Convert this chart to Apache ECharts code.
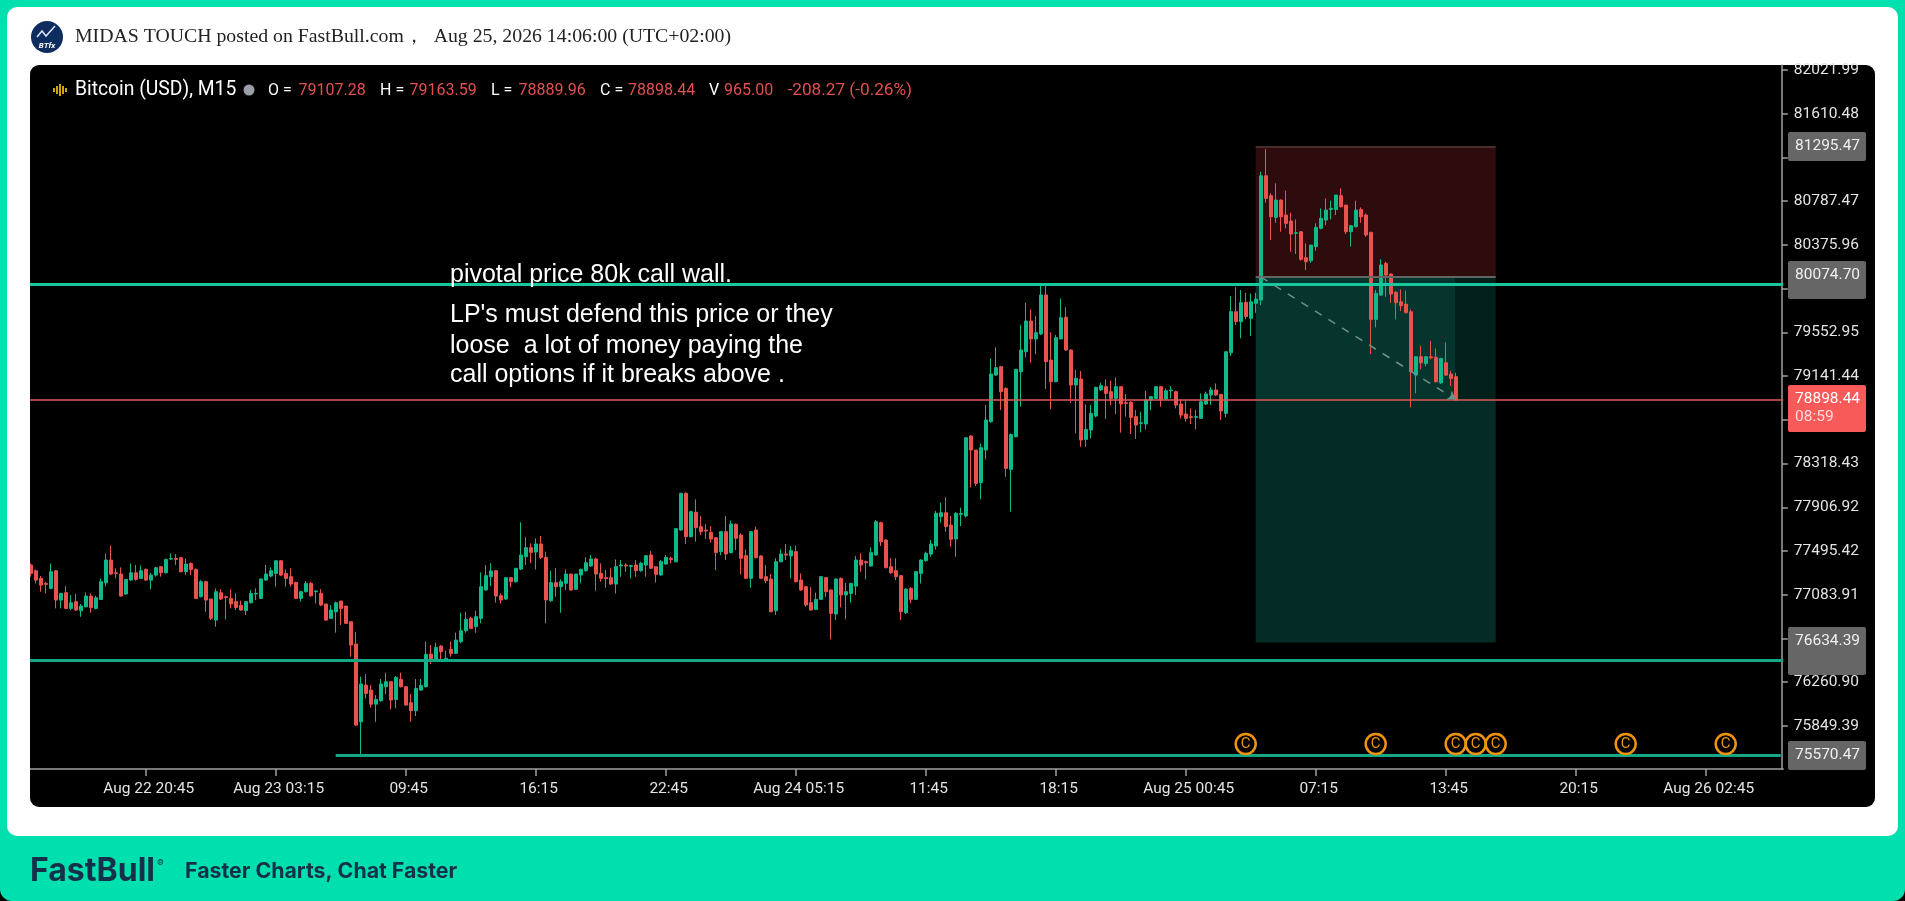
<!DOCTYPE html>
<html><head><meta charset="utf-8"><title>Bitcoin (USD), M15</title>
<style>html,body{margin:0;padding:0;background:#000}#c{width:1905px;height:901px}</style>
<script src="https://cdn.jsdelivr.net/npm/echarts@6/dist/echarts.min.js"></script></head>
<body><div id="c"></div>
<script>
// rows: [open, close, low, high]
const candlesAug22 = [
[77364,77285,77254,77379],[77310,77222,77191,77323],[77238,77175,77113,77260],[77191,77182,77097,77207],[77144,77301,77135,77379],
[77310,77034,76956,77317],[77034,77097,76956,77103],[77103,76956,76956,77166],[76956,77009,76940,77081],[77019,76940,76934,77091],
[76934,76978,76877,76997],[76971,77072,76965,77106],[77072,76965,76915,77097],[76956,77056,76946,77075],[77040,77207,77034,77238],
[77197,77411,77166,77473],[77411,77279,77269,77546],[77291,77285,77238,77332],[77279,77072,77066,77342],[77091,77229,77084,77229],
[77222,77291,77216,77379],[77291,77229,77216,77364],[77238,77310,77232,77357],[77323,77222,77216,77332],[77222,77269,77135,77291],
[77269,77338,77254,77348],[77348,77291,77254,77354],[77291,77417,77285,77423],[77420,77426,77411,77473],[77426,77417,77364,77467],
[77433,77301,77295,77436],[77301,77373,77269,77426],[77379,77323,77269,77389],[77323,77050,77044,77332],[77066,77207,77059,77222],
[77207,77034,76924,77216],[77044,76862,76846,77044],[76846,77113,76783,77144],[77103,77044,77034,77135],[77066,77059,76852,77075],
[77050,76997,76956,77135],[77019,76965,76940,77097],[76984,76940,76934,77028],[76934,77019,76893,77025],[77009,77097,77003,77128],
[77091,77097,77034,77144],[77050,77232,77044,77238],[77222,77279,77216,77364],[77260,77310,77248,77342],[77285,77404,77160,77404],
[77404,77269,77260,77411],[77285,77238,77160,77323],[77254,77185,77160,77332],[77200,77050,77044,77207],[77050,77113,77019,77122],
[77113,77191,77106,77213],[77191,77075,77066,77207],[77113,77119,77003,77128],[77097,76987,76978,77138],[76997,76846,76840,76997],
[76862,76940,76859,76987],[76924,77009,76727,77019],[77025,76956,76799,77025],[76978,76815,76808,76978],[76830,76611,76501,76830],
[76620,75858,75848,76736],[75889,76244,75585,76313],[76234,76156,76109,76338],[76187,76055,76024,76234],[76055,76099,75889,76140],
[76087,76244,76077,76291],[76219,76266,76150,76350],[76266,76093,76005,76266],[76099,76306,76015,76319],[76288,76219,76212,76350],
[76219,76046,76040,76225],[76068,75993,75889,76150],[75993,76203,75943,76291],[76187,76231,76181,76291],[76219,76523,76212,76642],
[76526,76470,76432,76611],[76476,76589,76463,76633]
];
const candlesAug23 = [
[76602,76549,76476,76611],[76470,76486,76470,76558],[76571,76533,76502,76643],[76533,76658,76527,76727],[76643,76746,76627,76915],
[76746,76853,76727,76925],[76862,76768,76759,76878],[76784,76878,76727,76934],[76862,77160,76815,77295],[77129,77264,77122,77364],
[77254,77308,77166,77380],[77311,77072,77010,77317],[77075,77035,77003,77097],[77044,77245,77035,77248],[77245,77207,77154,77248],
[77207,77333,77198,77333],[77326,77458,77317,77766],[77442,77527,77364,77624],[77527,77483,77380,77568],[77486,77562,77323,77615],
[77562,77436,77421,77637],[77436,77035,76815,77490],[77028,77198,77019,77311],[77198,77160,77066,77333],[77160,77207,76915,77229],
[77192,77279,77129,77323],[77279,77129,77122,77279],[77135,77279,77129,77279],[77270,77323,77192,77330],[77311,77386,77301,77436],
[77355,77421,77348,77458],[77421,77279,77122,77433],[77286,77239,77207,77380],[77245,77235,77151,77317],[77245,77185,77176,77333],
[77185,77348,77097,77417],[77355,77364,77254,77411],[77364,77355,77301,77380],[77351,77358,77239,77364],[77364,77311,77254,77411],
[77311,77380,77301,77395],[77364,77452,77254,77455],[77458,77333,77326,77496],[77348,77276,77198,77348],[77270,77395,77264,77411],
[77373,77436,77370,77458],[77427,77417,77380,77442],[77395,77706,77389,77706],[77693,78039,77687,78039],[78039,77631,77562,78048],
[77631,77866,77624,77875],[77860,77715,77584,77982],[77725,77678,77646,77825],[77693,77684,77609,77747],[77671,77609,77577,77731],
[77621,77480,77317,77624],[77490,77678,77458,77684],[77678,77468,77411,77825],[77480,77750,77474,77781],[77747,77615,77505,77756],
[77646,77427,77276,77662],[77452,77239,77232,77511],[77239,77678,77151,77684],[77693,77433,77427,77725],[77449,77239,77232,77458],
[77254,77217,77192,77364],[77232,76925,76919,77279],[76934,77395,76894,77427],[77395,77468,77389,77511],[77468,77458,77411,77562],
[77449,77499,77239,77543],[77490,77207,77201,77546],[77223,77129,77122,77286],[77160,76988,76972,77166],[77010,76941,76934,77154],
[76947,77041,76941,77104],[77041,77254,77035,77261],[77245,77113,77066,77248]
];
const candlesAug24 = [
[77129,76909,76664,77135],[76903,77232,76846,77238],[77238,77082,76966,77248],[77082,77113,76853,77198],[77097,77191,77010,77198],
[77166,77411,77082,77449],[77411,77364,77301,77474],[77395,77386,77229,77405],[77355,77480,77348,77530],[77458,77772,77452,77787],
[77762,77583,77543,77772],[77599,77339,77333,77606],[77348,77292,77279,77427],[77311,77254,77223,77427],[77264,76925,76846,77270],
[76915,77138,76903,77144],[77144,77041,77003,77154],[77041,77301,77035,77308],[77286,77411,77191,77417],[77405,77474,77395,77489],
[77467,77562,77442,77599],[77543,77850,77511,77872],[77819,77856,77762,77951],[77856,77725,77678,78001],[77740,77606,77536,77825],
[77609,77850,77442,77860],[77841,77850,77731,77903],[77825,78562,77812,78562],[78578,78446,78095,78587],[78446,78132,78107,78446],
[78139,78468,77982,78509],[78446,78728,78358,78870],[78713,79161,78703,79309],[79152,79221,79142,79412],[79230,78995,78822,79237],
[79026,78273,78195,79036],[78264,78593,77866,78603],[78572,79205,78565,79205],[79183,79387,78854,79622],[79371,79660,79318,79833],
[79660,79491,79268,79770],[79491,79550,79349,79707],[79538,79905,79528,79993],[79905,79277,79020,79999],[79293,79089,78829,79553],
[79089,79503,79083,79528],[79491,79691,79491,79873],[79695,79387,79381,79789],[79387,79058,78891,79393],[79058,79120,78603,79199],
[79114,78540,78477,79190],[78546,78640,78477,78876],[78634,78791,78556,78870],[78766,79036,78753,79042],[79011,79051,79004,79080],
[79042,78979,78738,79111],[78995,78932,78870,79099],[78932,79042,78785,79130],[79042,78879,78609,79048],[78891,78885,78760,78973],
[78895,78753,78597,78907],[78760,78681,78550,78822],[78697,78703,78612,78807],[78691,78917,78640,79004],[78917,78948,78822,78954],
[78932,79042,78926,79048],[79042,78923,78854,79048],[78926,79004,78917,79026],[79004,79011,78932,79048],[78995,78870,78838,79004],
[78879,78775,78744,78923],[78785,78744,78713,78917],[78760,78753,78691,78838],[78753,78760,78640,78822],[78744,78901,78738,78979],
[78879,78973,78870,78995],[78964,79011,78870,79036],[79011,78964,78954,79073],[78970,78813,78728,78973],[78791,79371,78753,79371],
[79362,79748,79331,79895],[79748,79654,79622,79977],[79654,79833,79497,79952],[79836,79701,79676,79927]
];
const candlesAug25 = [
[79685,79841,79518,79920],[79826,79866,79738,79926],[79857,81027,79810,81065],[81027,80814,80773,81278],[80839,80641,80422,80861],
[80635,80798,80585,80955],[80798,80641,80500,80804],[80657,80579,80532,80886],[80601,80478,80312,80679],[80485,80491,80290,80616],
[80500,80240,80227,80507],[80256,80218,80139,80390],[80227,80375,80208,80375],[80359,80541,80321,80579],[80532,80626,80522,80720],
[80610,80704,80563,80814],[80710,80720,80616,80792],[80710,80845,80657,80845],[80839,80735,80729,80908],[80751,80500,80478,80751],
[80500,80557,80359,80563],[80547,80704,80541,80792],[80710,80641,80585,80729],[80657,80469,80453,80673],[80494,79675,79349,80500],
[79675,79920,79600,79951],[79904,80187,79898,80240],[80202,80092,79888,80218],[80102,79914,79832,80108],[79929,79832,79675,79942],
[79841,79804,79754,79957],[79819,79738,79732,79945],[79747,79183,78847,79769],[79151,79324,78979,79330],[79324,79267,79205,79427],
[79261,79324,79236,79324],[79324,79314,79299,79474],[79318,79089,79082,79402],[79079,79308,79067,79314],[79267,79151,79145,79459],
[79161,79120,79048,79192],[79136,78916,78910,79173]
];
const xTickLabels = ['Aug 22 20:45','Aug 23 03:15','09:45','16:15','22:45','Aug 24 05:15','11:45','18:15','Aug 25 00:45','07:15','13:45','20:15','Aug 26 02:45'];
const yTickValues = [82021.99,81610.48,81198.97,80787.47,80375.96,79964.46,79552.95,79141.44,78729.93,78318.43,77906.92,77495.42,77083.91,76672.40,76260.90,75849.39];
const wallLevel = 80008, supportLevel = 76470, lowLevel = 75576, lastLevel = 78923;
const positionTop = 81295.47, positionEntry = 80074.70, positionBottom = 76634.39;
const markerIndexes = [243,269,285,289,293,319,339];
const markerLevel = 75680;
const headerLabels = ['O =','H =','L =','C =','V'];
const headerValues = ['79107.28','79163.59','78889.96','78898.44','965.00','-208.27 (-0.26%)'];
const noteLines = ['pivotal price 80k call wall.',"LP's must defend this price or they",'loose  a lot of money paying the','call options if it breaks above .'];

const candles = [...candlesAug22, ...candlesAug23, ...candlesAug24, ...candlesAug25];
const BAND_COUNT = 351, FIRST_TICK = 23, TICK_EVERY = 26;
const pad = n => String(n).padStart(2,'0');
const categories = [];
for (let i=0;i<BAND_COUNT;i++){
  const t = new Date(Date.UTC(2026,7,22,15,0)+i*900000);
  categories.push(`Aug ${t.getUTCDate()} ${pad(t.getUTCHours())}:${pad(t.getUTCMinutes())}`);
}
const labelOf = {};
xTickLabels.forEach((l,n)=>{labelOf[categories[FIRST_TICK+n*TICK_EVERY]] = l;});
const isTick = i => i>=FIRST_TICK && (i-FIRST_TICK)%TICK_EVERY===0;

const GREEN='#11b88a', RED='#e9534f', LEVEL='#18c79d', LEVEL_LOW='#12a886', AX='#a0a0a0', FONT='Roboto, sans-serif';
const LAST=candles.length-1;

const txt=(x,y,text,fill,size,extra={})=>({type:'text',x,y,z:60,silent:true,style:{text,fill,font:`${extra.weight||'normal'} ${size}px ${extra.family||FONT}`,textVerticalAlign:'middle',textAlign:extra.align||'left'}});
const box=(x,y,w,h,fill)=>({type:'rect',z:55,silent:true,shape:{x,y,width:w,height:h,r:2},style:{fill}});

const headX=[268,380,491,600,709], valX=[298.5,409.5,518.5,628,724,787.5];
const graphicEls=[
  {type:'rect',z:-30,silent:true,shape:{x:0,y:0,width:1905,height:901,r:[0,0,12,12]},style:{fill:'#00dfae'}},
  {type:'rect',z:-29,silent:true,shape:{x:7,y:7,width:1891,height:829,r:10},style:{fill:'#fff'}},
  {type:'rect',z:-28,silent:true,shape:{x:30,y:65,width:1845,height:742,r:9},style:{fill:'#000'}},
  {type:'rect',z:58,silent:true,shape:{x:27,y:80,width:3,height:695},style:{fill:'#fff'}},
  // avatar
  {type:'circle',z:20,silent:true,shape:{cx:47,cy:37,r:16},style:{fill:'#0e2c5e'}},
  {type:'polyline',z:21,silent:true,shape:{points:[[37,37],[42,31],[46,36],[55,26]]},style:{stroke:'#d8e8ff',lineWidth:1.5,fill:null}},
  txt(47,46,'BTfx','#fff',8,{align:'center',weight:'italic bold'}),
  // legend head
  ...[[54,2],[57,4],[60,6],[63,4],[66,2]].map(([x,h])=>({type:'rect',z:20,silent:true,shape:{x:x-0.9,y:90-h,width:1.8,height:h*2},style:{fill:'#e7b90d'}})),
  txt(75,90.5,'Bitcoin (USD), M15','#fff',19.3),
  {type:'circle',z:20,silent:true,shape:{cx:249,cy:90,r:5.5},style:{fill:'#9aa0a6'}},
  ...headerLabels.map((t,i)=>txt(headX[i],90.5,t,'#fff',16)),
  ...headerValues.map((t,i)=>txt(valX[i],90.5,t,'#e0514f',i===5?17.2:16)),
  // notes
  ...noteLines.map((t,i)=>txt(450,[275,315,346,375][i],t,'#fff',25,{family:'"Liberation Sans", Arial'})),
  // price tags
  box(1788,132,78,29,'#666'), txt(1795,146,'81295.47','#f0f0f0',15.5),
  box(1788,261,78,38,'#666'), txt(1795,275,'80074.70','#f0f0f0',15.5),
  box(1788,385,78,47,'#f85a5a'), txt(1795,399,'78898.44','#fff',15.5), txt(1795,417,'08:59','#fdd',15.5),
  box(1788,627,78,48,'#666'), txt(1795,641,'76634.39','#f0f0f0',15.5), {...txt(1795,660,'76404.77','#f0f0f0',15.5),scaleY:0.55,originY:660,originX:1795},
  box(1788,741,78,29,'#666'), txt(1795,755,'75570.47','#f0f0f0',15.5),
  // footer
  txt(30,871,'FastBull','#16304a',32,{weight:'bold',family:'Inter, sans-serif'}),
  txt(157,864,'®','#16304a',10,{family:'Inter, sans-serif'}),
  txt(185,872,'Faster Charts, Chat Faster','#16304a',21.3,{weight:'bold',family:'Inter, sans-serif'}),
];

const areaItem=(fromI,toI,top,bottom,color)=>[{xAxis:fromI,yAxis:top,itemStyle:{color,opacity:1}},{xAxis:toI,yAxis:bottom}];

const option={
  animation:false,
  backgroundColor:'#000',
  title:{text:'MIDAS TOUCH posted on FastBull.com，  Aug 25, 2026 14:06:00 (UTC+02:00)',left:75,top:27,textStyle:{fontFamily:'"Liberation Serif", serif',fontSize:19.8,fontWeight:'normal',color:'#222'},padding:0},
  graphic:{elements:graphicEls},
  grid:{left:28.2,top:65,width:1755,height:704,containLabel:false},
  xAxis:{type:'category',data:categories,boundaryGap:true,
    axisLine:{show:true,lineStyle:{color:AX,width:1.5}},
    axisTick:{show:true,alignWithLabel:true,interval:i=>isTick(i),length:7,lineStyle:{color:AX,width:1.5}},
    axisLabel:{interval:i=>isTick(i),formatter:v=>labelOf[v]||'',color:'#e4e4e4',fontFamily:FONT,fontSize:15.5,margin:12,hideOverlap:false,padding:[0,0,0,6]},
    splitLine:{show:false}},
  yAxis:{type:'value',position:'right',min:75444.6,max:82069,offset:-1.4,
    axisLine:{show:true,lineStyle:{color:AX,width:1.5}},
    axisTick:{show:true,customValues:yTickValues,length:6,lineStyle:{color:AX,width:1.5}},
    axisLabel:{customValues:yTickValues,formatter:v=>v.toFixed(2),color:'#e4e4e4',fontFamily:FONT,fontSize:15.5,margin:12,showMinLabel:true,showMaxLabel:true},
    splitLine:{show:false}},
  series:[
    {name:'Position zones',type:'line',z:1,data:[],silent:true,showSymbol:false,
      markArea:{silent:true,data:[
        areaItem(245,293,positionTop,positionEntry,'#2e0c0d'),
        areaItem(245,293,lastLevel,positionBottom,'#042b25'),
        areaItem(245,285,positionEntry,lastLevel,'#06352e'),
        areaItem(285,293,positionEntry,lastLevel,'#03201b')
      ]},
      markLine:{silent:true,symbol:'none',label:{show:false},animation:false,data:[
        {yAxis:wallLevel,lineStyle:{color:LEVEL,width:3,type:'solid'}},
        {yAxis:supportLevel,lineStyle:{color:LEVEL_LOW,width:3,type:'solid'}},
        [{coord:[61,lowLevel],lineStyle:{color:LEVEL_LOW,width:3,type:'solid'}},{coord:[350,lowLevel]}],
        [{coord:[245,positionTop],lineStyle:{color:'#4a2c2c',width:2,type:'solid'}},{coord:[293,positionTop]}],
        [{coord:[245,positionEntry],lineStyle:{color:'#5f6664',width:2,type:'solid'}},{coord:[293,positionEntry]}]
      ]}},
    {name:'Bitcoin (USD), M15',type:'candlestick',z:3,barWidth:3.6,data:candles,clip:true,
      itemStyle:{color:GREEN,color0:RED,borderColor:GREEN,borderColor0:RED,borderWidth:1}},
    {name:'Overlay lines',type:'line',z:4,data:[],silent:true,showSymbol:false,
      markLine:{silent:true,label:{show:false},animation:false,symbol:'none',data:[
        {yAxis:lastLevel,lineStyle:{color:'#e05a58',width:1.5,type:'solid'}},
        [{coord:[246,positionEntry],symbol:'none',lineStyle:{color:'#6f8f88',width:1.5,type:[8,8]}},{coord:[LAST-0.5,lastLevel],symbol:'arrow',symbolSize:8}]
      ]}},
    {name:'Calendar',type:'scatter',z:5,symbol:'circle',symbolSize:20,silent:true,
      data:markerIndexes.map(i=>[i,markerLevel]),
      itemStyle:{color:'rgba(0,0,0,0)',borderColor:'#f0930f',borderWidth:2.5,opacity:1},
      label:{show:true,position:'inside',formatter:'C',color:'#f0930f',fontFamily:FONT,fontSize:15,fontWeight:'normal'}}
  ]
};
const chart=echarts.init(document.getElementById('c'),null,{renderer:'canvas',width:1905,height:901});
chart.setOption(option);
</script></body></html>
